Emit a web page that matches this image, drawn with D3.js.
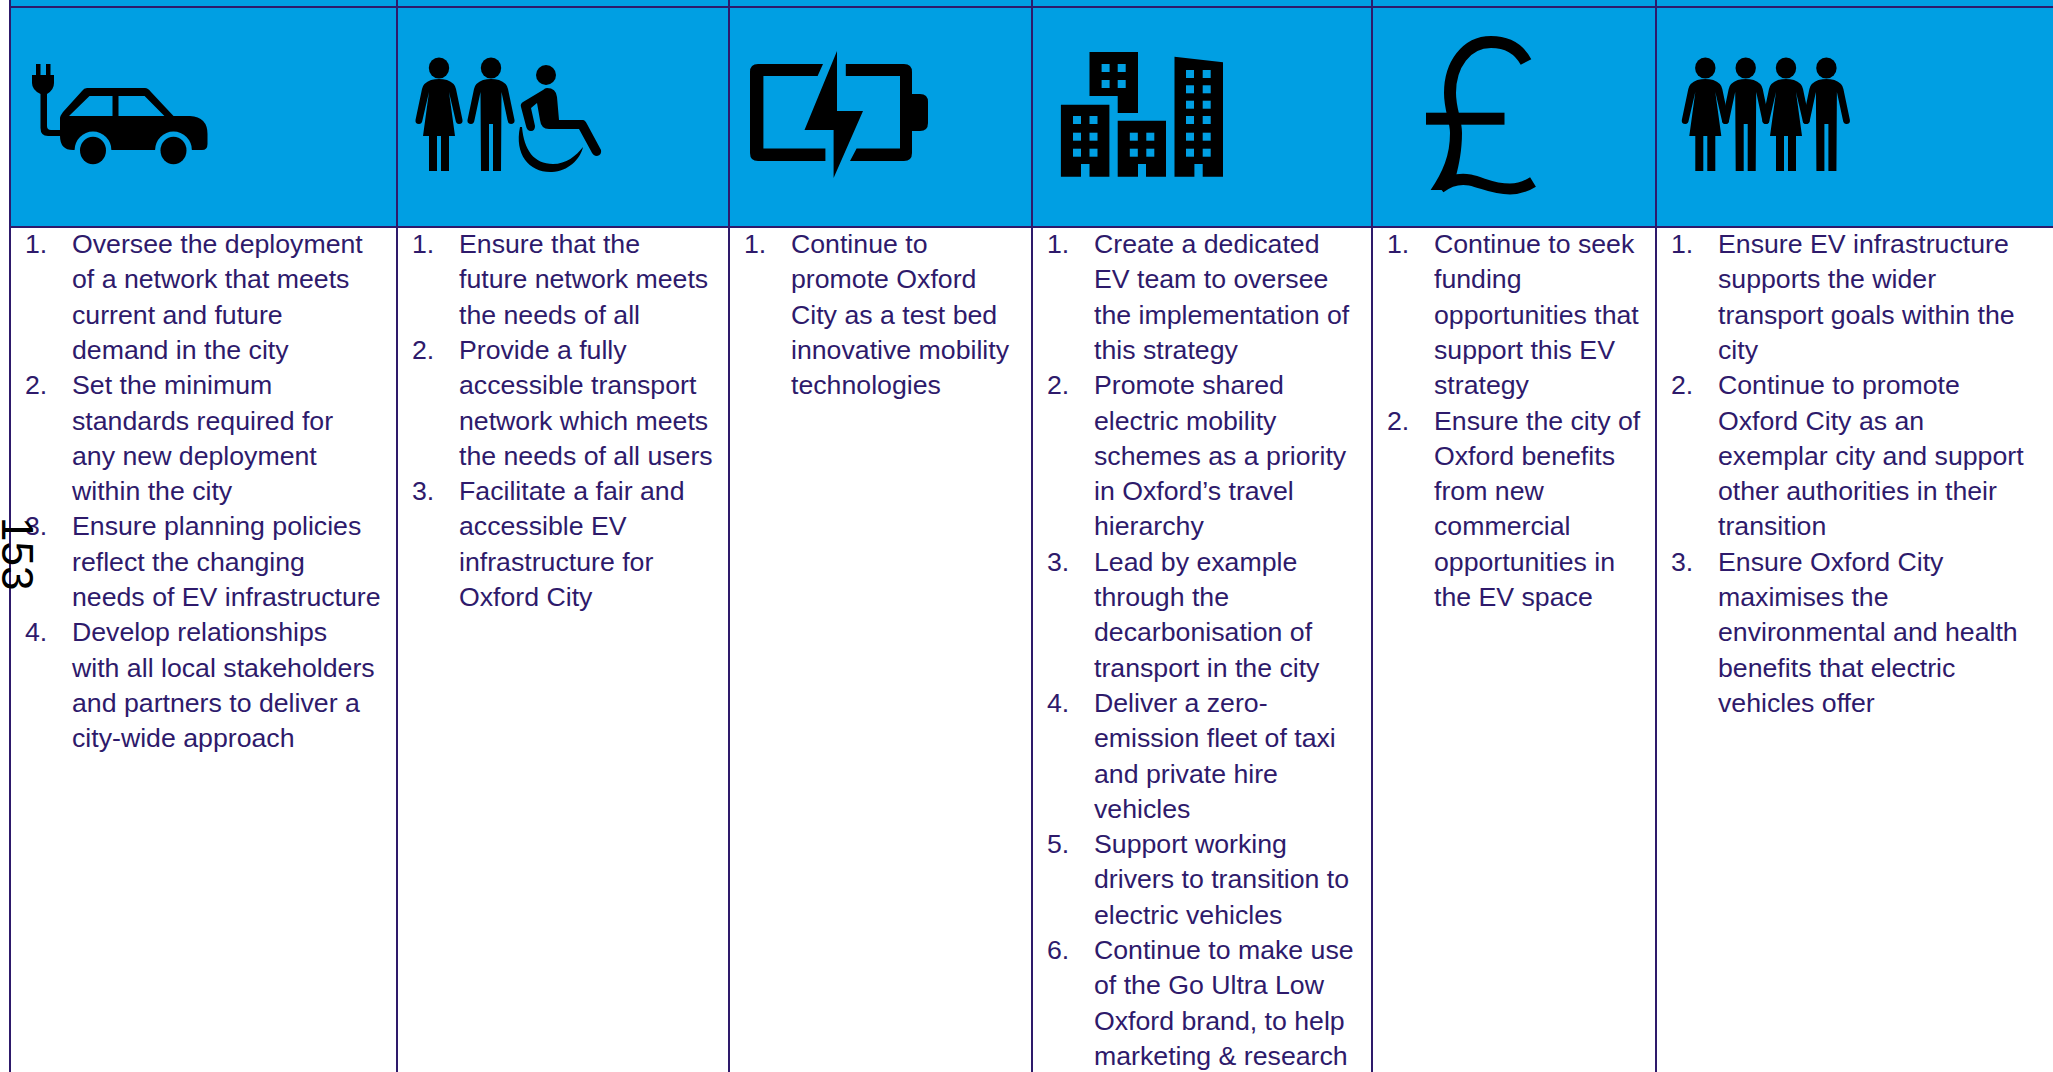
<!DOCTYPE html>
<html>
<head>
<meta charset="utf-8">
<script src="https://cdn.jsdelivr.net/npm/d3@7"></script>
<style>
  html, body { margin: 0; padding: 0; background: #fff; overflow: hidden; }
  svg { display: block; }
  .item { font-family: "Liberation Sans", Arial, sans-serif; font-size: 26.7px; fill: #2e1a6b; }
  .page-no { font-family: "Liberation Sans", Arial, sans-serif; font-size: 44px; fill: #000; }
</style>
</head>
<body>
<svg id="chart" width="2053" height="1072"></svg>
<script>
// column ids, one per icon
const columns = ['vehicle', 'access', 'battery', 'city', 'funding', 'people'];

// wrapped list text for each column
const vehicleItems = [
    ['Oversee the deployment', 'of a network that meets', 'current and future', 'demand in the city'],
    ['Set the minimum', 'standards required for', 'any new deployment', 'within the city'],
    ['Ensure planning policies', 'reflect the changing', 'needs of EV infrastructure'],
    ['Develop relationships', 'with all local stakeholders', 'and partners to deliver a', 'city-wide approach']
];
const accessItems = [
    ['Ensure that the', 'future network meets', 'the needs of all'],
    ['Provide a fully', 'accessible transport', 'network which meets', 'the needs of all users'],
    ['Facilitate a fair and', 'accessible EV', 'infrastructure for', 'Oxford City']
];
const batteryItems = [
    ['Continue to', 'promote Oxford', 'City as a test bed', 'innovative mobility', 'technologies']
];
const cityItems = [
    ['Create a dedicated', 'EV team to oversee', 'the implementation of', 'this strategy'],
    ['Promote shared', 'electric mobility', 'schemes as a priority', 'in Oxford\u2019s travel', 'hierarchy'],
    ['Lead by example', 'through the', 'decarbonisation of', 'transport in the city'],
    ['Deliver a zero-', 'emission fleet of taxi', 'and private hire', 'vehicles'],
    ['Support working', 'drivers to transition to', 'electric vehicles'],
    ['Continue to make use', 'of the Go Ultra Low', 'Oxford brand, to help', 'marketing & research']
];
const fundingItems = [
    ['Continue to seek', 'funding', 'opportunities that', 'support this EV', 'strategy'],
    ['Ensure the city of', 'Oxford benefits', 'from new', 'commercial', 'opportunities in', 'the EV space']
];
const peopleItems = [
    ['Ensure EV infrastructure', 'supports the wider', 'transport goals within the', 'city'],
    ['Continue to promote', 'Oxford City as an', 'exemplar city and support', 'other authorities in their', 'transition'],
    ['Ensure Oxford City', 'maximises the', 'environmental and health', 'benefits that electric', 'vehicles offer']
];
const columnItems = [vehicleItems, accessItems, batteryItems, cityItems, fundingItems, peopleItems];
const pageNumber = '153';

const width = 2053;
const height = 1072;
const blue = '#009fe3';
const ink = '#2e1a6b';

const svg = d3.select('#chart');

// column layout
const colLeft = d3.scaleOrdinal(columns, [10, 397, 729, 1032, 1372, 1656]);
const numberInset = 15;
const textInset = 62;
const rowY = d3.scaleLinear().domain([0, 1]).range([253, 288.3]);
const headerTop = 7;
const headerBottom = 227;

// header band
svg.append('rect')
    .attr('x', 10).attr('y', 0)
    .attr('width', width - 10).attr('height', headerBottom)
    .attr('fill', blue);

// list text
const rows = columns.flatMap((col, c) => {
    let row = 0;
    return columnItems[c].flatMap((lines, i) => lines.map((line, l) => ({
        col, line, number: l === 0 ? (i + 1) + '.' : null, row: row++
    })));
});

svg.selectAll('.item-text')
    .data(rows)
    .enter()
    .append('text')
    .attr('class', 'item item-text')
    .attr('x', d => colLeft(d.col) + textInset)
    .attr('y', d => rowY(d.row))
    .text(d => d.line);

svg.selectAll('.item-number')
    .data(rows.filter(d => d.number))
    .enter()
    .append('text')
    .attr('class', 'item item-number')
    .attr('x', d => colLeft(d.col) + numberInset)
    .attr('y', d => rowY(d.row))
    .text(d => d.number);

// grid lines
svg.selectAll('.col-line')
    .data(columns)
    .enter()
    .append('line')
    .attr('class', 'col-line')
    .attr('x1', d => colLeft(d)).attr('x2', d => colLeft(d))
    .attr('y1', 0).attr('y2', height)
    .attr('stroke', ink).attr('stroke-width', 2);

svg.selectAll('.row-line')
    .data([headerTop, headerBottom])
    .enter()
    .append('line')
    .attr('class', 'row-line')
    .attr('x1', 10).attr('x2', width)
    .attr('y1', d => d).attr('y2', d => d)
    .attr('stroke', ink).attr('stroke-width', 2);

// icons
const icons = svg.append('g').attr('class', 'icons').attr('fill', '#000');

const womanPath = 'M-8,12 Q0,10 8,12 Q16,15 17,21 L23.5,52 Q24,56 20,56 Q17,56 16.5,52 L10,24 L16,68 L10,68 L10,103 L2,103 L2,68 L-2,68 L-2,103 L-10,103 L-10,68 L-16,68 L-10,24 L-16.5,52 Q-17,56 -20,56 Q-24,56 -23.5,52 L-17,21 Q-16,15 -8,12 Z';
const manPath = 'M-8,12 Q0,10 8,12 Q16,15 17,21 L23.5,52 Q24,56 20,56 Q17,56 16.5,52 L10.5,24 L10,103 L2,103 L2,56 L-2,56 L-2,103 L-10,103 L-10.5,24 L-16.5,52 Q-17,56 -20,56 Q-24,56 -23.5,52 L-17,21 Q-16,15 -8,12 Z';

function figure(x, path) {
    const g = icons.append('g').attr('transform', `translate(${x},68)`);
    g.append('ellipse').attr('rx', 10.2).attr('ry', 10.5);
    g.append('path').attr('d', path);
}

// car and plug
icons.append('path').attr('d', 'M36,64 h4.5 v11 h5.5 v-11 h4.5 v11 h3.5 v8 Q54,90 47,94 V126 Q47,130 51,130 H62 V136 H48 Q40.5,136 40.5,128 V94 Q32,90 32,83 V75 H36 Z');
icons.append('path').attr('d', 'M87,88 H145 Q148,88 151,92 L173.5,116 H190 Q207.5,117 207.5,134 V144 Q207.5,150 202,150 H73 Q60,150 60,136 V118 Q60,116 63,112 L82,91 Q84,88 87,88 Z');
icons.append('path').attr('fill', blue).attr('d', 'M69,116 L89.5,96 H112.5 V116 Z M118.5,96 H144.6 L164.4,116 H118.5 Z');
[93, 173.5].forEach(x => {
    icons.append('circle').attr('cx', x).attr('cy', 150).attr('r', 18.4).attr('fill', blue);
    icons.append('rect').attr('x', x - 19).attr('y', 150.5).attr('width', 38).attr('height', 20).attr('fill', blue);
    icons.append('ellipse').attr('cx', x).attr('cy', 150.5).attr('rx', 13).attr('ry', 13.7);
});

// people with wheelchair
figure(439, womanPath);
figure(491, manPath);
icons.append('ellipse').attr('cx', 546).attr('cy', 75).attr('rx', 10).attr('ry', 10);
icons.append('path').attr('d', 'M547,88 Q556,88 557,97 L559,120 H583 Q585,120 587,124 L601,150 Q602,155 597,156 Q593,156 591,151 L579,129 H549 Q541,129 540,120 L537,103 L531,108 L535,126 Q535,131 531,131 Q527,131 526,126 L521,107 Q520,104 523,102 L543,90 Q545,88 547,88 Z');
icons.append('path').attr('d', 'M520,127 C514,155 530,173 552,172 C568,171 580,160 583,147 C576,156 566,164 553,164 C534,164 524,150 522,127 Z');

// battery
icons.append('path').attr('d', 'M823,64 H758 Q750,64 750,72 V153 Q750,161 758,161 H825.4 V148.5 H763.4 V76 H817.6 Z');
icons.append('path').attr('d', 'M845.8,64 H904 Q912,64 912,72 V153 Q912,161 904,161 H850 L856.6,148.5 H900 V76 H845.8 Z');
icons.append('path').attr('d', 'M912,94 H920 Q928,94 928,102 V123 Q928,131 920,131 H912 Z');
icons.append('path').attr('d', 'M837,51 L804.5,130 H833.6 V178 L863,111 H837 Z');

// buildings
icons.append('path').attr('d', 'M1089.5,52 H1138 V113 H1117.7 V96 H1089.5 Z');
icons.append('path').attr('d', 'M1060.9,104.7 H1109.4 V176.7 H1089.5 V164 H1081 V176.7 H1060.9 Z');
icons.append('path').attr('d', 'M1117.7,120.7 H1166 V176.7 H1146 V164 H1138 V176.7 H1117.7 Z');
icons.append('path').attr('d', 'M1174.5,56.7 L1223,62.3 V176.7 H1202.7 V164 H1194.4 V176.7 H1174.5 Z');
const windowRows = [
    { xs: [1101.6, 1117.7], ys: [64, 80] },
    { xs: [1073, 1089.5], ys: [116, 132.7, 148.7] },
    { xs: [1129.8, 1146.3], ys: [132.7, 148.7] },
    { xs: [1186, 1202.7], ys: [70, 85.3, 100.7, 116, 132.7, 148.7] }
];
windowRows.forEach(b => b.ys.forEach(y => b.xs.forEach(x => {
    icons.append('rect').attr('x', x).attr('y', y).attr('width', 8).attr('height', 8).attr('fill', blue);
})));

// pound sign
icons.append('rect').attr('x', 1426).attr('y', 112.7).attr('width', 78.5).attr('height', 12);
icons.append('path')
    .attr('fill', 'none').attr('stroke', '#000').attr('stroke-width', 12)
    .attr('d', 'M1526,62 C1519,49 1507,42 1491,42 C1466,42 1450,65 1450,93 C1450,110 1456,120 1456,133');
icons.append('path')
    .attr('d', 'M1450,133 C1450,155 1443,172 1430.6,190 H1445 L1456,176 C1459,165 1462,150 1462,133 Z');
icons.append('path')
    .attr('fill', 'none').attr('stroke', '#000').attr('stroke-width', 11)
    .attr('d', 'M1440,188 C1450,180 1459,178 1470,180 C1484,183 1492,189 1510,189 C1518,189 1525,187 1533,182');

// group of four people
figure(1705.3, womanPath);
figure(1745.7, manPath);
figure(1786, womanPath);
figure(1826.4, manPath);

// page number printed sideways over the table
svg.append('text')
    .attr('class', 'page-no')
    .attr('transform', 'translate(2,517) rotate(90)')
    .text(pageNumber);
</script>
</body>
</html>
